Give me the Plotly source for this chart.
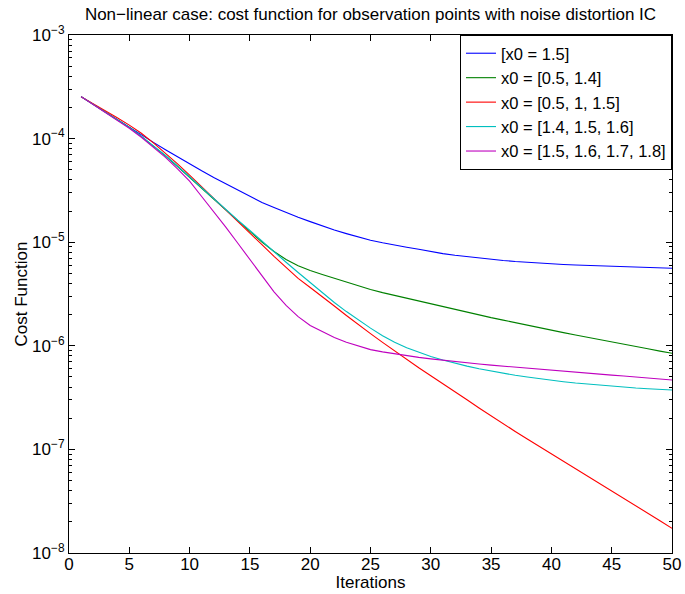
import plotly.graph_objects as go

# Iteration index (x axis)
iterations = list(range(1, 51))

# Cost function value per iteration for each set of observation points
cost_x0_1p5 = [
    2.54e-4, 2.14e-4, 1.80e-4, 1.52e-4, 1.28e-4, 1.08e-4, 9.19e-5, 7.81e-5, 6.66e-5, 5.68e-5,
    4.89e-5, 4.22e-5, 3.66e-5, 3.20e-5, 2.77e-5, 2.42e-5, 2.16e-5, 1.93e-5, 1.74e-5, 1.58e-5,
    1.43e-5, 1.31e-5, 1.21e-5, 1.115e-5, 1.045e-5, 9.87e-6, 9.35e-6, 8.93e-6, 8.54e-6, 8.12e-6,
    7.76e-6, 7.47e-6, 7.23e-6, 7.01e-6, 6.82e-6, 6.66e-6, 6.51e-6, 6.38e-6, 6.27e-6, 6.17e-6,
    6.09e-6, 6.02e-6, 5.96e-6, 5.90e-6, 5.85e-6, 5.80e-6, 5.75e-6, 5.70e-6, 5.65e-6, 5.60e-6,
]

cost_x0_0p5_1p4 = [
    2.54e-4, 2.15e-4, 1.81e-4, 1.53e-4, 1.28e-4, 1.05e-4, 8.52e-5, 6.82e-5, 5.38e-5, 4.20e-5,
    3.32e-5, 2.61e-5, 2.05e-5, 1.61e-5, 1.27e-5, 1.00e-5, 8.13e-6, 6.82e-6, 5.93e-6, 5.32e-6,
    4.87e-6, 4.47e-6, 4.11e-6, 3.78e-6, 3.49e-6, 3.26e-6, 3.06e-6, 2.87e-6, 2.70e-6, 2.54e-6,
    2.39e-6, 2.25e-6, 2.11e-6, 1.99e-6, 1.87e-6, 1.77e-6, 1.67e-6, 1.57e-6, 1.49e-6, 1.41e-6,
    1.34e-6, 1.27e-6, 1.21e-6, 1.15e-6, 1.09e-6, 1.04e-6, 9.84e-7, 9.35e-7, 8.89e-7, 8.46e-7,
]

cost_x0_0p5_1_1p5 = [
    2.54e-4, 2.18e-4, 1.86e-4, 1.59e-4, 1.35e-4, 1.125e-4, 9.09e-5, 7.26e-5, 5.71e-5, 4.45e-5,
    3.44e-5, 2.65e-5, 2.02e-5, 1.57e-5, 1.22e-5, 9.40e-6, 7.31e-6, 5.72e-6, 4.48e-6, 3.65e-6,
    2.99e-6, 2.42e-6, 1.96e-6, 1.59e-6, 1.31e-6, 1.08e-6, 8.89e-7, 7.36e-7, 6.13e-7, 5.13e-7,
    4.32e-7, 3.61e-7, 3.01e-7, 2.51e-7, 2.10e-7, 1.76e-7, 1.49e-7, 1.26e-7, 1.07e-7, 9.03e-8,
    7.66e-8, 6.50e-8, 5.51e-8, 4.68e-8, 3.97e-8, 3.37e-8, 2.85e-8, 2.42e-8, 2.05e-8, 1.73e-8,
]

cost_x0_1p4_1p5_1p6 = [
    2.54e-4, 2.15e-4, 1.81e-4, 1.53e-4, 1.28e-4, 1.05e-4, 8.56e-5, 6.87e-5, 5.44e-5, 4.28e-5,
    3.35e-5, 2.63e-5, 2.05e-5, 1.63e-5, 1.30e-5, 1.02e-5, 8.04e-6, 6.40e-6, 5.10e-6, 4.07e-6,
    3.25e-6, 2.62e-6, 2.14e-6, 1.77e-6, 1.48e-6, 1.25e-6, 1.08e-6, 9.57e-7, 8.61e-7, 7.88e-7,
    7.29e-7, 6.79e-7, 6.37e-7, 6.01e-7, 5.70e-7, 5.43e-7, 5.19e-7, 4.99e-7, 4.80e-7, 4.65e-7,
    4.50e-7, 4.37e-7, 4.26e-7, 4.16e-7, 4.07e-7, 3.98e-7, 3.91e-7, 3.85e-7, 3.80e-7, 3.74e-7,
]

cost_x0_1p5_to_1p8 = [
    2.54e-4, 2.14e-4, 1.81e-4, 1.51e-4, 1.26e-4, 1.03e-4, 8.33e-5, 6.60e-5, 5.11e-5, 3.88e-5,
    2.76e-5, 1.97e-5, 1.40e-5, 9.76e-6, 6.75e-6, 4.70e-6, 3.32e-6, 2.45e-6, 1.91e-6, 1.57e-6,
    1.36e-6, 1.20e-6, 1.08e-6, 9.89e-7, 9.19e-7, 8.73e-7, 8.35e-7, 8.01e-7, 7.73e-7, 7.47e-7,
    7.24e-7, 7.04e-7, 6.85e-7, 6.67e-7, 6.51e-7, 6.36e-7, 6.20e-7, 6.05e-7, 5.90e-7, 5.78e-7,
    5.65e-7, 5.54e-7, 5.43e-7, 5.32e-7, 5.21e-7, 5.11e-7, 5.01e-7, 4.90e-7, 4.79e-7, 4.68e-7,
]

series_names = [
    "[x0 = 1.5]",
    "x0 = [0.5, 1.4]",
    "x0 = [0.5, 1, 1.5]",
    "x0 = [1.4, 1.5, 1.6]",
    "x0 = [1.5, 1.6, 1.7, 1.8]",
]
series_values = [
    cost_x0_1p5,
    cost_x0_0p5_1p4,
    cost_x0_0p5_1_1p5,
    cost_x0_1p4_1p5_1p6,
    cost_x0_1p5_to_1p8,
]
series_colors = ["#0000FF", "#008000", "#FF0000", "#00BFBF", "#BF00BF"]

x_tick_values = [0, 5, 10, 15, 20, 25, 30, 35, 40, 45, 50]
y_exponents = [-8, -7, -6, -5, -4, -3]
y_tick_values = [10.0 ** e for e in y_exponents]
y_tick_text = ["10<sup>\u2212%d</sup>" % (-e) for e in y_exponents]
# minor log ticks at 2..9 times each decade
y_minor_ticks = [m * 10.0 ** e for e in y_exponents[:-1] for m in range(2, 10)]

FONT = "Liberation Sans, Arial, Helvetica, sans-serif"

fig = go.Figure()
for k, (name, values, color) in enumerate(zip(series_names, series_values, series_colors)):
    # the last series sits on the overlaid axis that carries the minor ticks
    fig.add_trace(
        go.Scatter(
            x=iterations,
            y=values,
            mode="lines",
            name=name,
            line=dict(color=color, width=1.1),
            yaxis="y2" if k == len(series_names) - 1 else "y",
        )
    )

fig.update_layout(
    width=685,
    height=594,
    margin=dict(l=69, r=13, t=35, b=41),
    paper_bgcolor="white",
    plot_bgcolor="white",
    font=dict(family=FONT, size=17, color="black"),
    title=dict(
        text="Non\u2212linear case: cost function for observation points with noise distortion IC",
        x=0.5,
        xref="paper",
        xanchor="center",
        y=1 - 14.5 / 594,
        yref="container",
        yanchor="middle",
        font=dict(family=FONT, size=17, color="black"),
    ),
    showlegend=True,
    legend=dict(
        x=1,
        y=1,
        xanchor="right",
        yanchor="top",
        bgcolor="white",
        bordercolor="black",
        borderwidth=1,
        font=dict(family=FONT, size=16.5, color="black"),
        itemwidth=30,
        tracegroupgap=0,
    ),
    xaxis=dict(
        range=[0, 50],
        automargin=False,
        tickvals=x_tick_values,
        ticktext=[str(v) for v in x_tick_values],
        ticks="inside",
        ticklen=6,
        tickwidth=1,
        tickcolor="black",
        ticklabelstandoff=-5,
        showline=True,
        linecolor="black",
        linewidth=1.2,
        mirror="ticks",
        showgrid=False,
        zeroline=False,
        tickfont=dict(family=FONT, size=17),
        title=dict(text="Iterations", standoff=0, font=dict(family=FONT, size=17)),
    ),
    yaxis=dict(
        type="log",
        range=[-8, -3],
        automargin=False,
        tickvals=y_tick_values,
        ticktext=y_tick_text,
        ticks="inside",
        ticklen=6,
        tickwidth=1,
        tickcolor="black",
        showline=True,
        linecolor="black",
        linewidth=1.2,
        mirror="ticks",
        showgrid=False,
        zeroline=False,
        tickfont=dict(family=FONT, size=17),
        title=dict(text="Cost Function", standoff=0, font=dict(family=FONT, size=17)),
    ),
    yaxis2=dict(
        type="log",
        range=[-8, -3],
        overlaying="y",
        side="left",
        automargin=False,
        tickmode="array",
        tickvals=y_minor_ticks,
        ticktext=["" for _ in y_minor_ticks],
        showticklabels=False,
        ticks="inside",
        ticklen=3,
        tickwidth=1,
        tickcolor="black",
        showline=True,
        linecolor="black",
        linewidth=1.2,
        mirror="ticks",
        showgrid=False,
        zeroline=False,
    ),
)

fig.write_html("out.html")
